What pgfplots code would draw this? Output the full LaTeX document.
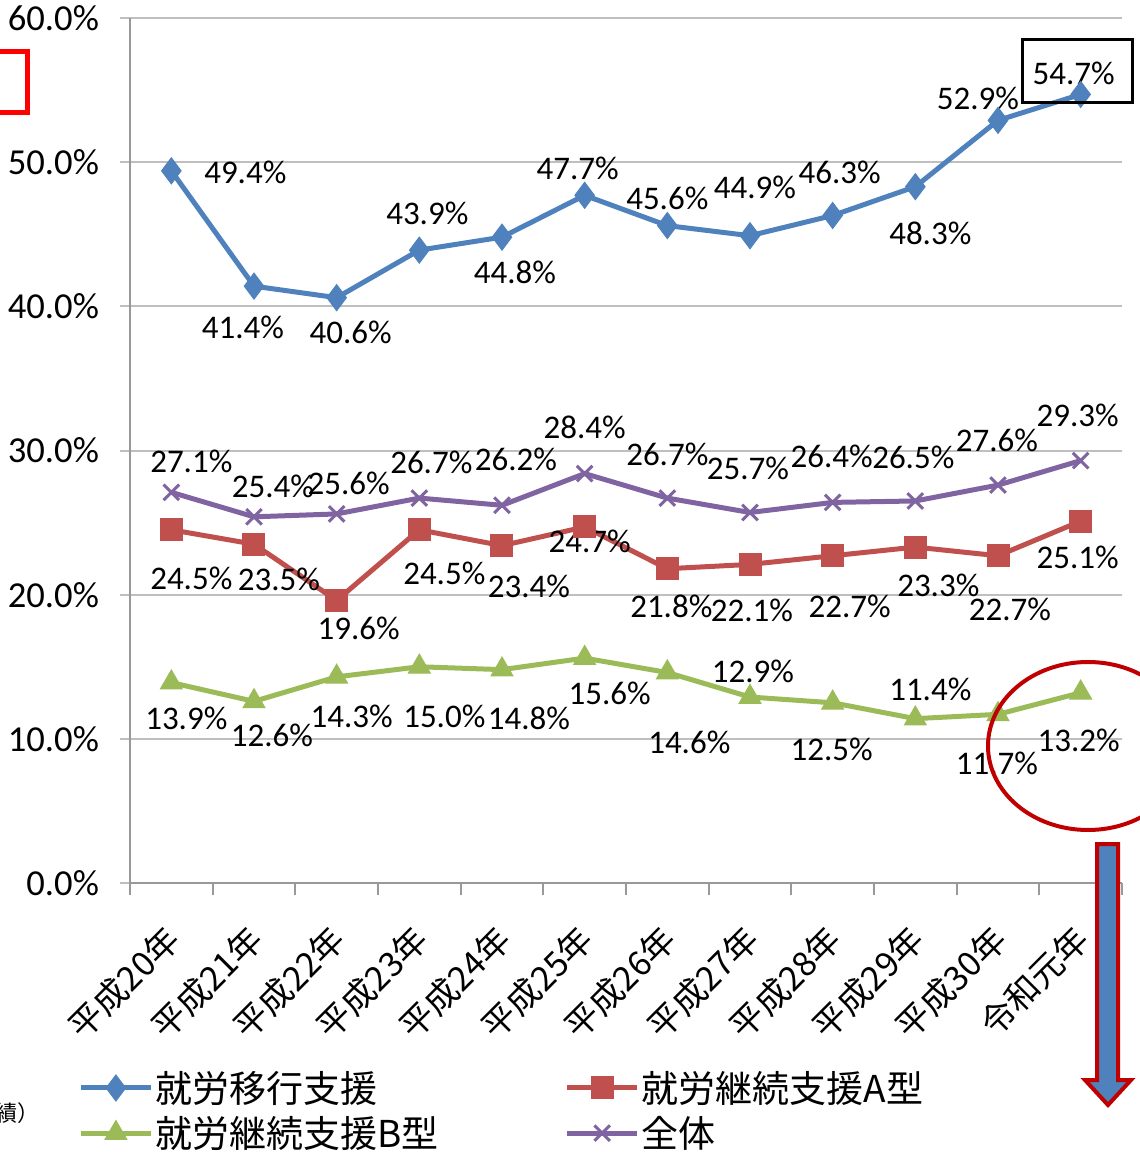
\documentclass[border=0pt]{standalone}
\usepackage{pgfplots}
\pgfplotsset{compat=1.18}
\usepackage{fontspec}
\setmainfont{Carlito}
\newfontfamily\jp{Noto Sans CJK JP}
\definecolor{cBlue}{HTML}{4F81BD}
\definecolor{cRed}{HTML}{C0504D}
\definecolor{cGreen}{HTML}{9BBB59}
\definecolor{cPurple}{HTML}{8064A2}
\definecolor{cDark}{HTML}{C00000}
\definecolor{cGrid}{HTML}{BFBFBF}
\newcommand{\labfont}{\fontsize{16.5}{18}\selectfont}
\newcommand{\lab}[5]{\node[font=\labfont, text=black, inner sep=0pt, xshift=#3pt, yshift=#4pt] at (axis cs:#1,#2) {#5\%};}
\begin{document}
\begin{tikzpicture}[x=1pt,y=1pt]
\useasboundingbox (-65,-135) rectangle (505,441.5);
\begin{axis}[
  at={(0,0)}, anchor=south west,
  scale only axis, width=496pt, height=432.5pt,
  xmin=-0.5, xmax=11.5, ymin=0, ymax=60,
  axis x line*=bottom, axis y line*=left,
  axis line style={-, draw=gray!80, line width=1pt},
  ytick={0,10,...,60},
  yticklabel={\pgfmathprintnumber[fixed,fixed zerofill,precision=1]{\tick}\%},
  /pgf/number format/assume math mode=true,
  yticklabel style={font=\fontsize{18.3}{19}\selectfont, text=black, xshift=-7pt},
  ymajorgrids, grid style={draw=cGrid, line width=1pt},
  y tick style={draw=cGrid, line width=1pt}, major tick length=5pt, tick align=outside,
  xtick={0,...,11},
  xticklabels={平成20年,平成21年,平成22年,平成23年,平成24年,平成25年,平成26年,平成27年,平成28年,平成29年,平成30年,令和元年},
  xticklabel style={font=\jp\fontsize{17}{17}\selectfont, xshift=3.5pt, yshift=-17.6pt, rotate=45, anchor=east},
  x tick style={draw=none},
  extra x ticks={-0.5,0.5,...,11.5},
  extra x tick labels={},
  extra x tick style={x tick style={draw=gray!80, line width=1pt}, major tick length=6pt, grid=none},
  legend columns=2,
  legend cell align=left,
  legend style={at={(rel axis cs:-0.0524,-0.2145)}, anchor=north west, draw=none, fill=none,
    inner sep=0pt, row sep=3.5pt,
    font=\jp\fontsize{18.5}{19}\selectfont,
    nodes={inner sep=1pt},
    /tikz/every even column/.append style={column sep=62pt}},
  legend image code/.code={\draw[mark repeat=2,mark phase=2,#1] plot coordinates {(0pt,0pt) (17.5pt,0pt) (35pt,0pt)};},
  clip=false,
]
\addplot[cBlue, line width=2.5pt, mark=diamond*, mark size=6.5pt, mark options={solid, line width=0.5pt}] coordinates {
(0,49.4) (1,41.4) (2,40.6) (3,43.9) (4,44.8) (5,47.7) (6,45.6) (7,44.9) (8,46.3) (9,48.3) (10,52.9) (11,54.7)};
\addlegendentry{就労移行支援}
\addplot[cRed, line width=2.5pt, mark=square*, mark size=5.5pt, mark options={solid, line width=0.5pt}] coordinates {
(0,24.5) (1,23.5) (2,19.6) (3,24.5) (4,23.4) (5,24.7) (6,21.8) (7,22.1) (8,22.7) (9,23.3) (10,22.7) (11,25.1)};
\addlegendentry{就労継続支援A型}
\addplot[cGreen, line width=2.5pt, mark=triangle*, mark size=6.3pt, mark options={solid, line width=0.5pt}] coordinates {
(0,13.9) (1,12.6) (2,14.3) (3,15.0) (4,14.8) (5,15.6) (6,14.6) (7,12.9) (8,12.5) (9,11.4) (10,11.7) (11,13.2)};
\addlegendentry{就労継続支援B型}
\addplot[cPurple, line width=2.5pt, mark=x, mark size=5.5pt, mark options={solid, line width=1.5pt}] coordinates {
(0,27.1) (1,25.4) (2,25.6) (3,26.7) (4,26.2) (5,28.4) (6,26.7) (7,25.7) (8,26.4) (9,26.5) (10,27.6) (11,29.3)};
\addlegendentry{全体}
% blue labels
\lab{0}{49.4}{37}{-1}{49.4}
\lab{1}{41.4}{-5.5}{-20.5}{41.4}
\lab{2}{40.6}{7}{-17.5}{40.6}
\lab{3}{43.9}{4}{18.5}{43.9}
\lab{4}{44.8}{6.5}{-17.5}{44.8}
\lab{5}{47.7}{-3.5}{13.5}{47.7}
\lab{6}{45.6}{0}{13.5}{45.6}
\lab{7}{44.9}{2.5}{24}{44.9}
\lab{8}{46.3}{3.5}{21.5}{46.3}
\lab{9}{48.3}{7.5}{-23.5}{48.3}
\lab{10}{52.9}{-10}{11}{52.9}
\lab{11}{54.7}{-3.5}{10.5}{54.7}
% purple labels
\lab{0}{27.1}{10}{15.5}{27.1}
\lab{1}{25.4}{9.5}{15}{25.4}
\lab{2}{25.6}{6}{15.5}{25.6}
\lab{3}{26.7}{6}{18}{26.7}
\lab{4}{26.2}{7}{23}{26.2}
\lab{5}{28.4}{0}{23}{28.4}
\lab{6}{26.7}{0}{22}{26.7}
\lab{7}{25.7}{-1}{22}{25.7}
\lab{8}{26.4}{-0.5}{23}{26.4}
\lab{9}{26.5}{-1}{22}{26.5}
\lab{10}{27.6}{-0.5}{22.5}{27.6}
\lab{11}{29.3}{-1.5}{22.5}{29.3}
% red labels
\lab{0}{24.5}{10}{-24.5}{24.5}
\lab{1}{23.5}{12.5}{-17.5}{23.5}
\lab{2}{19.6}{11}{-14}{19.6}
\lab{3}{24.5}{12.5}{-22}{24.5}
\lab{4}{23.4}{13.5}{-20.5}{23.4}
\lab{5}{24.7}{2.5}{-7}{24.7}
\lab{6}{21.8}{2}{-19}{21.8}
\lab{7}{22.1}{1}{-23}{22.1}
\lab{8}{22.7}{8.5}{-25.5}{22.7}
\lab{9}{23.3}{11.5}{-19}{23.3}
\lab{10}{22.7}{6}{-27}{22.7}
\lab{11}{25.1}{-1.5}{-18}{25.1}
% green labels
\lab{0}{13.9}{7.5}{-18}{13.9}
\lab{1}{12.6}{9}{-17}{12.6}
\lab{2}{14.3}{7.5}{-20}{14.3}
\lab{3}{15.0}{12.5}{-25}{15.0}
\lab{4}{14.8}{13.5}{-24.5}{14.8}
\lab{5}{15.6}{12.5}{-17.5}{15.6}
\lab{6}{14.6}{11}{-35}{14.6}
\lab{7}{12.9}{1.5}{13}{12.9}
\lab{8}{12.5}{-0.5}{-23.5}{12.5}
\lab{9}{11.4}{7.5}{14.5}{11.4}
\lab{10}{11.7}{-0.5}{-24.5}{11.7}
\lab{11}{13.2}{-1}{-24}{13.2}
\end{axis}
% annotations
\draw[red, line width=2.5pt] (-70,415.5) rectangle (-51,385);
\draw[black, line width=1.5pt] (446,421.5) rectangle (501,390);
\draw[cDark, line width=2pt] (479,68.5) ellipse [x radius=50, y radius=42];
\draw[cDark, line width=2pt, fill=cBlue] (483.5,19.5) -- (494,19.5) -- (494,-98.5) -- (500.5,-98.5) -- (489,-111) -- (477.5,-98.5) -- (483.5,-98.5) -- cycle;
\node[font=\jp\fontsize{11}{11}\selectfont, anchor=east, inner sep=0pt] at (-45,-115) {績）};
\end{tikzpicture}
\end{document}
